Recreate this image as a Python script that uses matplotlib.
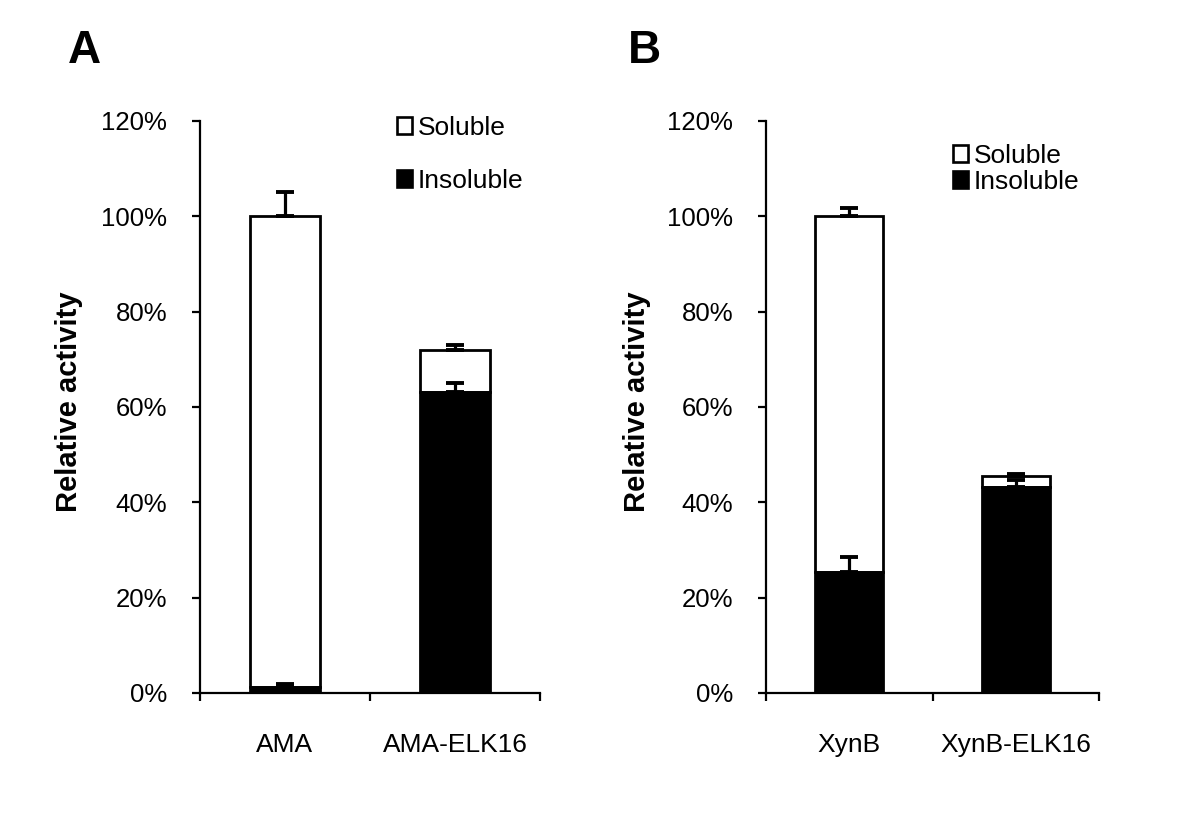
import matplotlib
matplotlib.use("Agg")
import matplotlib.pyplot as plt
from matplotlib.patches import Patch
from matplotlib.ticker import PercentFormatter, FixedLocator
import numpy as np

plt.rcParams['font.family'] = ['Liberation Sans', 'DejaVu Sans']

# Data (percent)
categories_A = ["AMA", "AMA-ELK16"]
insoluble_A = [1.3, 63.1]
soluble_A = [98.7, 8.9]          # stacked on insoluble; totals 100, 72
insoluble_err_A = [0.6, 1.9]
total_err_A = [5.2, 1.0]

categories_B = ["XynB", "XynB-ELK16"]
insoluble_B = [25.4, 43.2]
soluble_B = [74.6, 2.4]          # totals 100, 45.6
insoluble_err_B = [3.2, 1.4]
total_err_B = [1.7, 0.4]

yticks = [0, 20, 40, 60, 80, 100, 120]

fig = plt.figure(figsize=(12, 8.17), dpi=100)
W, H = 1200, 817

def make_axes(x0, x1):
    return fig.add_axes([x0 / W, 1 - 693 / H, (x1 - x0) / W, (693 - 121) / H])

axA = make_axes(200, 540)
axB = make_axes(766, 1099)

FS = 18.5
FS_CAT = 19

def draw(ax, cats, insol, sol, ierr, terr, leg_y1, leg_y2, leg_x):
    x = np.arange(len(cats))
    totals = [a + b for a, b in zip(insol, sol)]
    w = 0.41
    ax.bar(x, sol, w, bottom=insol, color='white', edgecolor='black', linewidth=2.0, zorder=2)
    ax.bar(x, insol, w, color='black', edgecolor='black', linewidth=2.0, zorder=2)
    zero = [0] * len(x)
    ax.errorbar(x, totals, yerr=[zero, terr], fmt='none', ecolor='black',
                elinewidth=2.3, capsize=6.5, capthick=2.8, zorder=3)
    ax.errorbar(x, insol, yerr=[zero, ierr], fmt='none', ecolor='black',
                elinewidth=2.3, capsize=6.5, capthick=2.8, zorder=3)
    ax.set_xlim(-0.5, len(cats) - 0.5)
    ax.set_ylim(0, 120)
    ax.set_yticks(yticks)
    ax.yaxis.set_major_formatter(PercentFormatter(decimals=0))
    ax.set_xticks(x)
    ax.set_xticklabels(cats, fontsize=FS_CAT)
    ax.xaxis.set_minor_locator(FixedLocator([-0.5, 0.5, 1.5]))
    ax.tick_params(axis='x', which='major', length=0, pad=29)
    ax.tick_params(axis='x', which='minor', length=6, width=1.6, direction='out')
    ax.tick_params(axis='y', which='major', length=5.5, width=1.6, direction='out',
                   labelsize=FS, pad=18)
    for s in ['top', 'right']:
        ax.spines[s].set_visible(False)
    for s in ['left', 'bottom']:
        ax.spines[s].set_linewidth(1.6)
    ax.set_ylabel("Relative activity", fontsize=21, fontweight='bold')
    ax.yaxis.set_label_coords(-0.345, 0.51)
    # legend entries
    h1 = Patch(facecolor='white', edgecolor='black', linewidth=1.9)
    h2 = Patch(facecolor='black', edgecolor='black', linewidth=1.9)
    kw = dict(frameon=False, fontsize=FS_CAT, handlelength=0.58, handleheight=0.58,
              handletextpad=0.2, borderaxespad=0, borderpad=0, loc='center left',
              bbox_transform=fig.transFigure)
    leg1 = ax.legend([h1], ["Soluble"], bbox_to_anchor=(leg_x / W, 1 - leg_y1 / H), **kw)
    ax.add_artist(leg1)
    ax.legend([h2], ["Insoluble"], bbox_to_anchor=(leg_x / W, 1 - leg_y2 / H), **kw)

draw(axA, categories_A, insoluble_A, soluble_A, insoluble_err_A, total_err_A, 128, 181, 397)
draw(axB, categories_B, insoluble_B, soluble_B, insoluble_err_B, total_err_B, 156, 182, 953)

fig.text(68 / W, 1 - 63 / H, "A", fontsize=33, fontweight='bold', ha='left', va='baseline')
fig.text(628 / W, 1 - 63 / H, "B", fontsize=33, fontweight='bold', ha='left', va='baseline')

fig.savefig("out.png", dpi=100)
